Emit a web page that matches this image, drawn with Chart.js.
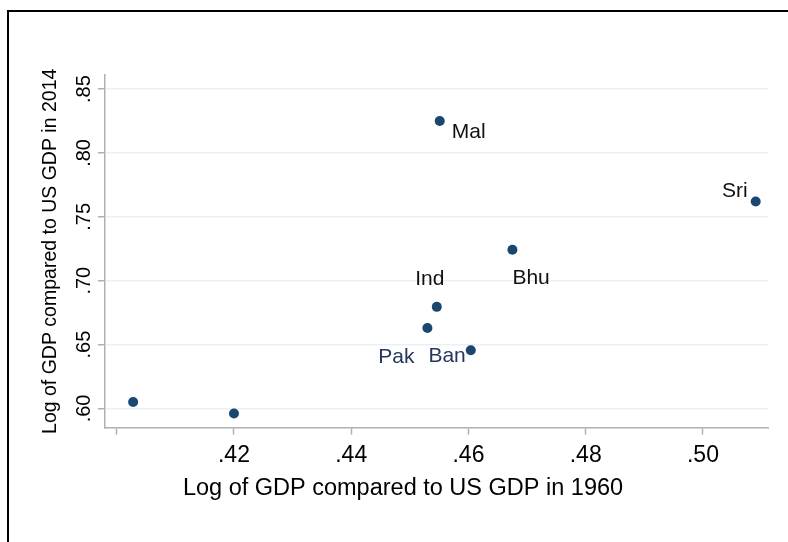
<!DOCTYPE html>
<html>
<head>
<meta charset="utf-8">
<script src="https://cdn.jsdelivr.net/npm/chart.js@4/dist/chart.umd.min.js"></script>
<style>
  body { margin: 0; background: #fff; }
  #wrap { position: relative; width: 788px; height: 542px; }
  #frame { position: absolute; left: 7px; top: 10px; right: 0; bottom: 0;
           border-top: 2px solid #000; border-left: 2px solid #000; pointer-events: none; }
</style>
</head>
<body>
<div id="wrap">
  <canvas id="chart" width="788" height="542"></canvas>
  <div id="frame"></div>
</div>
<script>
// data
const countries = ['', '', 'Mal', 'Bhu', 'Ind', 'Pak', 'Ban', 'Sri'];
const gdp1960 = [0.4028, 0.4200, 0.4551, 0.4675, 0.4546, 0.4530, 0.4604, 0.5090];
const gdp2014 = [0.605, 0.596, 0.825, 0.7242, 0.6795, 0.663, 0.6456, 0.762];
const xTicks = [0.40, 0.42, 0.44, 0.46, 0.48, 0.50];
const xLabelled = [0.42, 0.44, 0.46, 0.48, 0.50];
const yTicks = [0.60, 0.65, 0.70, 0.75, 0.80, 0.85];

// where each name sits relative to its marker (pixels)
const labelOffsets = [
  null, null,
  { dx: 12, dy: 11, align: 'left', color: '#111' },
  { dx: 0, dy: 28, align: 'left', color: '#111' },
  { dx: -7, dy: -28, align: 'center', color: '#111' },
  { dx: -13, dy: 29, align: 'right', color: '#26365c' },
  { dx: -5, dy: 6, align: 'right', color: '#26365c' },
  { dx: -8, dy: -10, align: 'right', color: '#111' }
];

const fmt = v => v.toFixed(2).replace(/^0/, '');
const font = 'Liberation Sans, Arial, sans-serif';

const pointNames = {
  id: 'pointNames',
  afterDatasetsDraw(chart) {
    const ctx = chart.ctx;
    const meta = chart.getDatasetMeta(0);
    ctx.save();
    ctx.font = '21px ' + font;
    ctx.textBaseline = 'middle';
    meta.data.forEach((pt, i) => {
      const o = labelOffsets[i];
      if (!o || !countries[i]) return;
      ctx.fillStyle = o.color;
      ctx.textAlign = o.align;
      ctx.fillText(countries[i], pt.x + o.dx, pt.y + o.dy);
    });
    ctx.restore();
  }
};

new Chart(document.getElementById('chart'), {
  type: 'scatter',
  data: {
    datasets: [{
      data: gdp1960.map((x, i) => ({ x: x, y: gdp2014[i] })),
      backgroundColor: '#1a476f',
      borderColor: '#1a476f',
      pointRadius: 5,
      pointBorderWidth: 0
    }]
  },
  options: {
    responsive: false,
    animation: false,
    devicePixelRatio: 1,
    layout: { padding: { left: 38, top: 75, right: 20, bottom: 0 } },
    plugins: {
      legend: { display: false },
      tooltip: { enabled: false },
      title: {
        display: true,
        position: 'bottom',
        text: 'Log of GDP compared to US GDP in 1960',
        color: '#000',
        font: { family: font, size: 23.5, weight: 'normal', lineHeight: 1.2 },
        padding: { top: 0, bottom: 39 }
      }
    },
    scales: {
      x: {
        type: 'linear',
        min: 0.398,
        max: 0.5111,
        afterBuildTicks: s => { s.ticks = xTicks.map(v => ({ value: v })); },
        afterFit: s => { s.height = 47.2; },
        grid: { drawOnChartArea: false, drawTicks: true, tickLength: 7, tickColor: '#b0b0b0', tickWidth: 1.5 },
        border: { color: '#b0b0b0', width: 1.5 },
        ticks: {
          color: '#000',
          padding: 7,
          maxRotation: 0,
          font: { family: font, size: 23 },
          callback: v => xLabelled.includes(+v.toFixed(2)) ? fmt(v) : ''
        }
      },
      y: {
        min: 0.585,
        max: 0.861,
        afterBuildTicks: s => { s.ticks = yTicks.map(v => ({ value: v })); },
        afterFit: s => { s.width = 67; },
        grid: { color: '#e9f1f2', lineWidth: 1.5, drawTicks: true, tickLength: 7, tickColor: '#b0b0b0', tickWidth: 1.5 },
        border: { color: '#b0b0b0', width: 1.5 },
        title: {
          display: true,
          text: 'Log of GDP compared to US GDP in 2014',
          color: '#000',
          font: { family: font, size: 19.5 },
          padding: { top: 1, bottom: 0 }
        },
        ticks: {
          color: '#000',
          padding: 0,
          minRotation: 90,
          maxRotation: 90,
          crossAlign: 'center',
          font: { family: font, size: 20 },
          callback: v => fmt(v)
        }
      }
    }
  },
  plugins: [pointNames]
});
</script>
</body>
</html>
